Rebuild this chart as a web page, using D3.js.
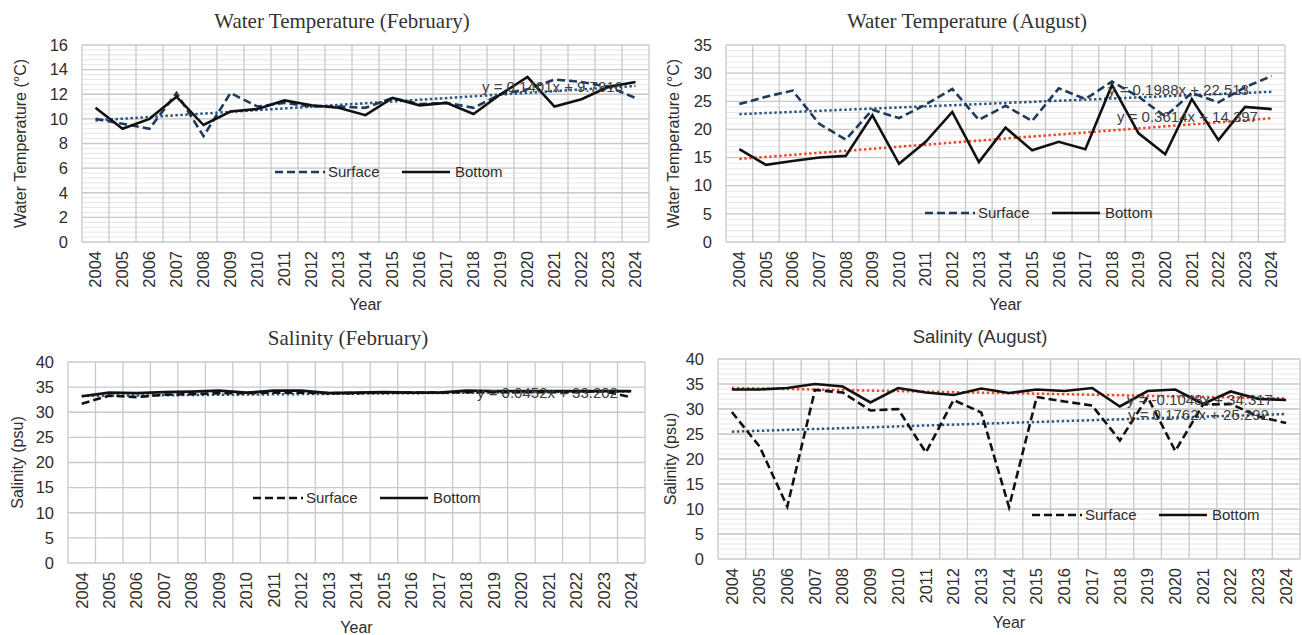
<!DOCTYPE html>
<html>
<head>
<meta charset="utf-8">
<script src="https://cdn.jsdelivr.net/npm/d3@7"></script>
<style>
  body { margin: 0; background: #fff; }
  svg { display: block; }
</style>
</head>
<body>
<script>
// Years on the x axis
const years = ['2004', '2005', '2006', '2007', '2008', '2009', '2010', '2011', '2012', '2013', '2014',
               '2015', '2016', '2017', '2018', '2019', '2020', '2021', '2022', '2023', '2024'];

// Water temperature, February
const tempFebSurface = [10.0, 9.6, 9.2, 12.1, 8.6, 12.1, 11.0, 11.3, 11.0, 11.0, 10.9, 11.7, 11.2, 11.3, 10.9, 12.0, 12.4, 13.2, 13.0, 12.6, 11.7];
const tempFebBottom  = [10.9, 9.2, 10.0, 11.8, 9.5, 10.6, 10.8, 11.5, 11.1, 10.9, 10.3, 11.7, 11.1, 11.3, 10.4, 12.0, 13.4, 11.0, 11.6, 12.6, 13.0];

// Water temperature, August
const tempAugSurface = [24.5, 25.8, 26.9, 21.0, 18.2, 23.5, 22.0, 24.4, 27.2, 21.7, 24.2, 21.5, 27.3, 25.4, 28.5, 25.8, 22.3, 26.5, 24.8, 27.5, 29.5];
const tempAugBottom  = [16.5, 13.7, 14.4, 15.0, 15.3, 22.5, 13.9, 17.8, 23.1, 14.2, 20.3, 16.3, 17.8, 16.5, 27.9, 19.3, 15.6, 25.4, 18.1, 24.0, 23.6];

// Salinity, February
const salFebSurface = [31.7, 33.3, 33.0, 33.5, 33.6, 33.8, 33.8, 33.9, 33.9, 33.8, 33.8, 33.9, 33.9, 33.9, 34.0, 34.0, 34.0, 34.0, 34.0, 34.2, 33.0];
const salFebBottom  = [33.2, 33.9, 33.8, 34.0, 34.1, 34.3, 33.9, 34.3, 34.3, 33.8, 33.9, 34.0, 33.9, 33.9, 34.3, 34.2, 34.2, 34.2, 34.2, 34.2, 34.2];

// Salinity, August
const salAugSurface = [29.4, 22.5, 10.5, 33.8, 33.3, 29.7, 30.0, 21.3, 31.8, 29.3, 10.4, 32.4, 31.5, 30.7, 23.7, 32.4, 21.6, 30.9, 31.0, 28.5, 27.2];
const salAugBottom  = [33.9, 33.9, 34.2, 35.0, 34.5, 31.3, 34.2, 33.3, 32.8, 34.1, 33.2, 33.9, 33.6, 34.2, 30.5, 33.6, 33.9, 31.0, 33.5, 32.0, 31.8];

// Linear trend lines [slope, intercept] as printed on the chart (x = 1..21)
const tempFebTrend = [0.1401, 9.7316];
const tempAugSurfaceTrend = [0.1988, 22.513];
const tempAugBottomTrend = [0.3614, 14.397];
const salFebTrend = [0.0452, 33.202];
const salAugBottomTrend = [-0.1048, 34.317];
const salAugSurfaceTrend = [0.1762, 25.292];

const NAVY = '#1f3b5c';
const TREND_BLUE = '#2a5783';
const TREND_RED = '#f0482a';
const TEXT = '#2e2e2e';
const SANS = '"Liberation Sans", Arial, sans-serif';
const SERIF = '"Liberation Serif", "Times New Roman", serif';

const svg = d3.select('body').append('svg')
    .attr('width', 1302)
    .attr('height', 635);

const panels = [
    {
        title: 'Water Temperature (February)', titleFont: SERIF, titleSize: 21, titleX: 342, titleY: 28,
        yTitle: 'Water Temperature (°C)', yTitleX: 20, xTitleY: 310,
        left: 82, right: 649, top: 45, bottom: 242, yMax: 16, yStep: 2, minor: 0.4,
        surface: tempFebSurface, bottomVals: tempFebBottom, surfaceColor: NAVY,
        trends: [{ coef: tempFebTrend, color: TREND_BLUE, label: 'y = 0.1401x + 9.7316', lx: 482, ly: 92 }],
        legendX: 275, legendY: 172
    },
    {
        title: 'Water Temperature (August)', titleFont: SERIF, titleSize: 21, titleX: 967, titleY: 28,
        yTitle: 'Water Temperature (°C)', yTitleX: 673, xTitleY: 310,
        left: 726, right: 1285, top: 45, bottom: 242, yMax: 35, yStep: 5, minor: 1,
        surface: tempAugSurface, bottomVals: tempAugBottom, surfaceColor: NAVY,
        trends: [
            { coef: tempAugSurfaceTrend, color: TREND_BLUE, label: 'y = 0.1988x + 22.513', lx: 1108, ly: 95 },
            { coef: tempAugBottomTrend, color: TREND_RED, label: 'y = 0.3614x + 14.397', lx: 1117, ly: 122 }
        ],
        legendX: 925, legendY: 213
    },
    {
        title: 'Salinity (February)', titleFont: SERIF, titleSize: 21, titleX: 348, titleY: 345,
        yTitle: 'Salinity (psu)', yTitleX: 17, xTitleY: 633,
        left: 68, right: 645, top: 362, bottom: 563, yMax: 40, yStep: 5, minor: 0,
        surface: salFebSurface, bottomVals: salFebBottom, surfaceColor: '#111',
        trends: [{ coef: salFebTrend, color: TREND_BLUE, label: 'y = 0.0452x + 33.202', lx: 477, ly: 398 }],
        legendX: 253, legendY: 498
    },
    {
        title: 'Salinity (August)', titleFont: SANS, titleSize: 18.5, titleX: 980, titleY: 343,
        yTitle: 'Salinity (psu)', yTitleX: 670, xTitleY: 628,
        left: 718, right: 1300, top: 359, bottom: 559, yMax: 40, yStep: 5, minor: 1,
        surface: salAugSurface, bottomVals: salAugBottom, surfaceColor: '#111',
        trends: [
            { coef: salAugBottomTrend, color: TREND_RED, label: 'y = -0.1048x + 34.317', lx: 1127, ly: 405 },
            { coef: salAugSurfaceTrend, color: TREND_BLUE, label: 'y = 0.1762x + 25.292', lx: 1128, ly: 420 }
        ],
        legendX: 1032, legendY: 515
    }
];

panels.forEach(drawPanel);

function drawPanel(p) {
    const x = d3.scaleBand().domain(years).range([p.left, p.right]);
    const y = d3.scaleLinear().domain([0, p.yMax]).range([p.bottom, p.top]);
    const cx = d => x(d) + x.bandwidth() / 2;
    const g = svg.append('g');

    // Minor horizontal grid
    if (p.minor) {
        g.append('g').selectAll('line')
            .data(d3.range(p.minor, p.yMax, p.minor))
            .join('line')
            .attr('x1', p.left).attr('x2', p.right)
            .attr('y1', d => y(d)).attr('y2', d => y(d))
            .attr('stroke', '#e6e6e6').attr('stroke-width', 1);
    }

    // Major horizontal grid
    g.append('g').selectAll('line')
        .data(d3.range(0, p.yMax + 0.001, p.yStep))
        .join('line')
        .attr('x1', p.left).attr('x2', p.right)
        .attr('y1', d => y(d)).attr('y2', d => y(d))
        .attr('stroke', '#c9c9c9').attr('stroke-width', 1.3);

    // Vertical grid at category boundaries
    g.append('g').selectAll('line')
        .data(years.map(d => x(d)).concat([p.right]))
        .join('line')
        .attr('x1', d => d).attr('x2', d => d)
        .attr('y1', p.top).attr('y2', p.bottom)
        .attr('stroke', '#c9c9c9').attr('stroke-width', 1.3);

    // Y axis labels
    g.append('g')
        .attr('transform', `translate(${p.left},0)`)
        .call(d3.axisLeft(y).tickValues(d3.range(0, p.yMax + 0.001, p.yStep)).tickSize(0).tickPadding(14))
        .call(a => a.select('.domain').remove())
        .selectAll('text')
        .attr('font-family', SANS).attr('font-size', 16.5).attr('fill', TEXT);

    // X axis labels (rotated years)
    g.append('g')
        .attr('transform', `translate(0,${p.bottom})`)
        .call(d3.axisBottom(x).tickSize(0))
        .call(a => a.select('.domain').remove())
        .selectAll('text')
        .attr('transform', 'rotate(-90)')
        .attr('text-anchor', 'end')
        .attr('x', -9).attr('y', 0).attr('dy', '0.35em')
        .attr('font-family', SANS).attr('font-size', 16.5).attr('fill', TEXT);

    // Trend lines
    const trendLine = d3.line().x(d => d[0]).y(d => y(d[1]));
    p.trends.forEach(t => {
        const pts = [1, years.length].map(i => [cx(years[i - 1]), t.coef[0] * i + t.coef[1]]);
        g.append('path')
            .attr('d', trendLine(pts))
            .attr('fill', 'none')
            .attr('stroke', t.color)
            .attr('stroke-width', 2.5)
            .attr('stroke-dasharray', '2.5,2.5');
    });

    // Data lines
    const line = d3.line().x((d, i) => cx(years[i])).y(d => y(d));
    g.append('path')
        .attr('d', line(p.surface))
        .attr('fill', 'none')
        .attr('stroke', p.surfaceColor)
        .attr('stroke-width', 2.6)
        .attr('stroke-dasharray', '8,4');
    g.append('path')
        .attr('d', line(p.bottomVals))
        .attr('fill', 'none')
        .attr('stroke', '#111')
        .attr('stroke-width', 2.6);

    // Trend equations
    p.trends.forEach(t => {
        g.append('text')
            .attr('x', t.lx).attr('y', t.ly)
            .attr('font-family', SANS).attr('font-size', 15)
            .attr('fill', '#404040')
            .text(t.label);
    });

    // Legend
    const lg = g.append('g').attr('transform', `translate(${p.legendX},${p.legendY})`);
    lg.append('line').attr('x1', 0).attr('x2', 50).attr('y1', 0).attr('y2', 0)
        .attr('stroke', p.surfaceColor).attr('stroke-width', 2.6).attr('stroke-dasharray', '8,4');
    lg.append('text').attr('x', 53).attr('y', 0).attr('dy', '0.35em')
        .attr('font-family', SANS).attr('font-size', 15).attr('fill', TEXT).text('Surface');
    lg.append('line').attr('x1', 127).attr('x2', 175).attr('y1', 0).attr('y2', 0)
        .attr('stroke', '#111').attr('stroke-width', 2.6);
    lg.append('text').attr('x', 180).attr('y', 0).attr('dy', '0.35em')
        .attr('font-family', SANS).attr('font-size', 15).attr('fill', TEXT).text('Bottom');

    // Titles
    svg.append('text')
        .attr('x', p.titleX).attr('y', p.titleY)
        .attr('text-anchor', 'middle')
        .attr('font-family', p.titleFont).attr('font-size', p.titleSize)
        .attr('fill', '#333')
        .text(p.title);

    const ymid = (p.top + p.bottom) / 2;
    svg.append('text')
        .attr('transform', `translate(${p.yTitleX},${ymid}) rotate(-90)`)
        .attr('text-anchor', 'middle').attr('dy', '0.35em')
        .attr('font-family', SANS).attr('font-size', 16).attr('fill', TEXT)
        .text(p.yTitle);

    svg.append('text')
        .attr('x', (p.left + p.right) / 2).attr('y', p.xTitleY)
        .attr('text-anchor', 'middle')
        .attr('font-family', SANS).attr('font-size', 16).attr('fill', TEXT)
        .text('Year');
}
</script>
</body>
</html>
